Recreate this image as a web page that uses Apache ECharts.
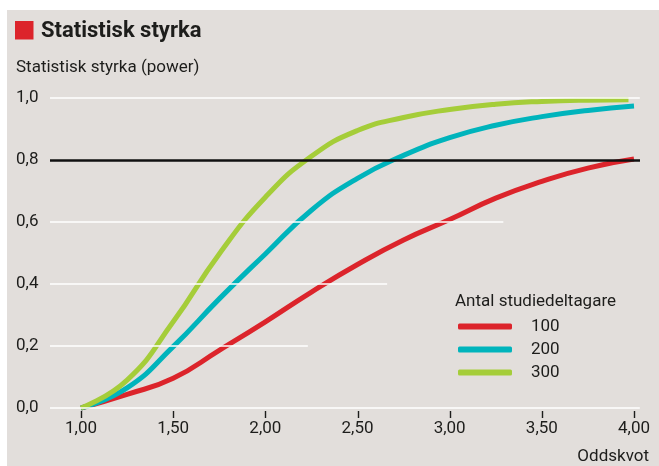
<!DOCTYPE html>
<html>
<head>
<meta charset="utf-8">
<script src="https://cdn.jsdelivr.net/npm/echarts@6/dist/echarts.min.js"></script>
<style>
  html, body { margin: 0; padding: 0; background: #fff; }
  #wrap { position: relative; width: 659px; height: 466px; }
  #bg { position: absolute; left: 7px; top: 10px; right: 0; bottom: 0; background: #e2dedb; }
  #chart { position: absolute; left: 0; top: 0; width: 659px; height: 466px; }
</style>
</head>
<body>
<div id="wrap">
  <div id="bg"></div>
  <div id="chart"></div>
</div>
<script>
// oddskvot (x) och statistisk styrka för 100, 200, 300 deltagare
var oddskvot = [1.0, 1.25, 1.5, 1.75, 2.0, 2.25, 2.5, 2.75, 3.0, 3.25, 3.5, 3.75, 4.0];
var oddskvot300 = [1.0, 1.25, 1.5, 1.75, 2.0, 2.25, 2.5, 2.75, 3.0, 3.25, 3.5, 3.75, 3.97];
var power100 = [0, 0.044, 0.096, 0.186, 0.278, 0.374, 0.463, 0.542, 0.608, 0.677, 0.731, 0.774, 0.803];
var power200 = [0, 0.065, 0.198, 0.352, 0.497, 0.638, 0.741, 0.815, 0.872, 0.912, 0.94, 0.96, 0.974];
var power300 = [0, 0.09, 0.278, 0.497, 0.68, 0.812, 0.895, 0.937, 0.963, 0.98, 0.989, 0.993, 0.994];
var seriesNames = ["100", "200", "300"];
var xTicks = [1.0, 1.5, 2.0, 2.5, 3.0, 3.5, 4.0];
var powerLimit = 0.8;

// vita stödlinjer, där de slutar i originalet
var gridLevels = [0, 0.2, 0.4, 0.6, 1.0];
var gridEnds = [4.03, 2.23, 2.66, 3.29, 4.03];
var lineMin = 0.832, lineMax = 4.031;

var textColor = "#1d1d1b";
var font = "Roboto";

function pairs(xs, ys) {
  return xs.map(function (x, i) { return [x, ys[i]]; });
}

var chart = echarts.init(document.getElementById("chart"));

var gridLines = gridLevels.map(function (y, i) {
  return [{ coord: [lineMin, y] }, { coord: [gridEnds[i], y] }];
});

function curve(name, xs, ys, color) {
  return {
    name: name, type: "line", smooth: 0.5, showSymbol: false, z: 3, clip: false,
    data: pairs(xs, ys),
    lineStyle: { width: 5, color: color, cap: "butt" },
    itemStyle: { color: color }
  };
}

var option = {
  animation: false,
  textStyle: { fontFamily: font, color: textColor },
  graphic: [
    { type: "rect", shape: { x: 15, y: 21, width: 18.5, height: 18.5 }, style: { fill: "#dc242b" } },
    { type: "text", x: 41, y: 31, style: { text: "Statistisk styrka", font: "bold 22px " + font, fill: textColor, verticalAlign: "middle" } },
    { type: "text", x: 16, y: 68, style: { text: "Statistisk styrka (power)", font: "17px " + font, fill: textColor, verticalAlign: "middle" } },
    { type: "text", x: 455, y: 302, style: { text: "Antal studiedeltagare", font: "17px " + font, fill: textColor, verticalAlign: "middle" } },
    { type: "text", x: 649, y: 457, style: { text: "Oddskvot", font: "17px " + font, fill: textColor, align: "right", verticalAlign: "middle" } }
  ],
  grid: [
    { left: 81, right: 25, top: 98, bottom: 58 },
    { left: 50, right: 19, top: 98, bottom: 58 }
  ],
  legend: {
    orient: "vertical",
    left: 458,
    top: 317,
    padding: 0,
    itemGap: 4,
    itemWidth: 54,
    itemHeight: 6,
    icon: "roundRect",
    data: seriesNames,
    textStyle: { fontSize: 17, lineHeight: 19, color: textColor, fontFamily: font, padding: [0, 0, 0, 14] }
  },
  xAxis: [
    {
      type: "value",
      gridIndex: 0,
      min: 1,
      max: 4,
      interval: 0.5,
      offset: 3,
      splitLine: { show: false },
      axisLine: { show: false },
      axisTick: { show: false },
      axisLabel: {
        margin: 9,
        fontSize: 17,
        color: textColor,
        formatter: function (v) { return v.toFixed(2).replace(".", ","); }
      }
    },
    { type: "value", gridIndex: 1, min: lineMin, max: lineMax, show: false }
  ],
  yAxis: [
    {
      type: "value",
      gridIndex: 0,
      min: 0,
      max: 1,
      interval: 0.2,
      splitLine: { show: false },
      axisLine: { show: false },
      axisTick: { show: false },
      axisLabel: {
        align: "left",
        margin: 65,
        fontSize: 17,
        color: textColor,
        formatter: function (v) { return v.toFixed(1).replace(".", ","); }
      }
    },
    { type: "value", gridIndex: 1, min: 0, max: 1, show: false }
  ],
  series: [
    {
      type: "line",
      xAxisIndex: 1,
      yAxisIndex: 1,
      data: [],
      z: 1,
      silent: true,
      markLine: {
        silent: true,
        symbol: "none",
        label: { show: false },
        lineStyle: { color: "#ffffff", width: 1.5, type: "solid" },
        data: gridLines.concat([
          [{ coord: [lineMin, powerLimit], lineStyle: { color: "#111111", width: 2.5, type: "solid" } },
           { coord: [lineMax, powerLimit] }]
        ])
      }
    },
    {
      // skalstreck under x-axeln
      type: "custom",
      silent: true,
      clip: false,
      z: 10,
      data: xTicks.map(function (x) { return [x, 0]; }),
      renderItem: function (params, api) {
        var p = api.coord([api.value(0), api.value(1)]);
        var px = Math.round(p[0]) + 0.5;
        return {
          type: "line",
          shape: { x1: px, y1: p[1] + 3, x2: px, y2: p[1] + 10 },
          style: { stroke: textColor, lineWidth: 1.4 }
        };
      }
    },
    curve(seriesNames[0], oddskvot, power100, "#dc242b"),
    curve(seriesNames[1], oddskvot, power200, "#00b4bc"),
    curve(seriesNames[2], oddskvot300, power300, "#a5cd39")
  ]
};

chart.setOption(option);
</script>
</body>
</html>
